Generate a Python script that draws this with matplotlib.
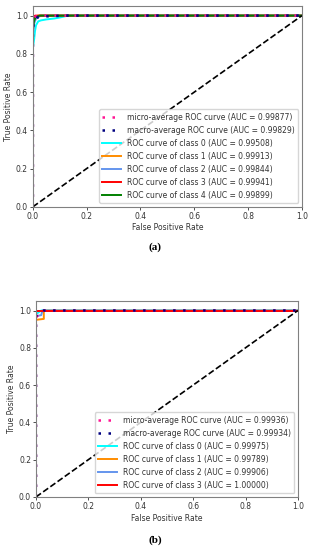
import matplotlib.pyplot as plt
import numpy as np

# ---- panel (a) data: ROC points per curve
a_micro_fpr = [0.0, 0.0, 0.003, 0.01, 0.03, 1.0]
a_micro_tpr = [0.0, 0.95, 0.985, 0.995, 1.0, 1.0]
a_macro_fpr = [0.0, 0.0, 0.004, 0.015, 0.05, 0.12, 1.0]
a_macro_tpr = [0.0, 0.93, 0.975, 0.99, 0.996, 1.0, 1.0]
a_cls_fpr = [
    [0.0, 0.0, 0.005, 0.008, 0.012, 0.02, 0.03, 0.05, 0.08, 0.1, 0.13, 1.0],
    [0.0, 0.0, 0.004, 0.01, 0.02, 1.0],
    [0.0, 0.0, 0.005, 0.012, 0.03, 1.0],
    [0.0, 0.0, 0.003, 0.008, 1.0],
    [0.0, 0.0, 0.004, 0.01, 0.025, 1.0],
]
a_cls_tpr = [
    [0.0, 0.83, 0.88, 0.92, 0.95, 0.97, 0.975, 0.98, 0.985, 0.99, 1.0, 1.0],
    [0.0, 0.94, 0.98, 0.995, 1.0, 1.0],
    [0.0, 0.9, 0.96, 0.985, 1.0, 1.0],
    [0.0, 0.96, 0.99, 1.0, 1.0],
    [0.0, 0.92, 0.97, 0.99, 1.0, 1.0],
]
a_micro_auc = 0.99877
a_macro_auc = 0.99829
a_cls_auc = [0.99508, 0.99913, 0.99844, 0.99941, 0.99899]

# ---- panel (b) data
b_micro_fpr = [0.0, 0.0, 0.01, 0.02, 1.0]
b_micro_tpr = [0.0, 0.96, 0.98, 1.0, 1.0]
b_macro_fpr = [0.0, 0.0, 0.01, 0.02, 0.03, 1.0]
b_macro_tpr = [0.0, 0.97, 0.985, 0.995, 1.0, 1.0]
b_cls_fpr = [
    [0.0, 0.0, 0.01, 0.02, 1.0],
    [0.0, 0.0, 0.03, 0.03, 1.0],
    [0.0, 0.0, 0.02, 0.025, 1.0],
    [0.0, 0.0, 1.0],
]
b_cls_tpr = [
    [0.0, 0.98, 0.99, 1.0, 1.0],
    [0.0, 0.95, 0.955, 1.0, 1.0],
    [0.0, 0.97, 0.975, 1.0, 1.0],
    [0.0, 1.0, 1.0],
]
b_micro_auc = 0.99936
b_macro_auc = 0.99934
b_cls_auc = [0.99975, 0.99789, 0.99906, 1.00000]

colors = ['aqua', 'darkorange', 'cornflowerblue', 'red', 'green']
fs = 5.5
dots = (0, (1, 3))

fig = plt.figure(figsize=(3.1, 5.5), dpi=100)


def draw(ax, micro_fpr, micro_tpr, micro_auc, macro_fpr, macro_tpr, macro_auc,
         cls_fpr, cls_tpr, cls_auc):
    for i in range(len(cls_fpr)):
        ax.plot(cls_fpr[i], cls_tpr[i], color=colors[i], lw=1.4,
                label='ROC curve of class {0} (AUC = {1:.5f})'.format(i, cls_auc[i]))
    ax.plot(micro_fpr, micro_tpr, color='deeppink', ls=dots, lw=1.8,
            label='micro-average ROC curve (AUC = {0:.5f})'.format(micro_auc))
    ax.plot(macro_fpr, macro_tpr, color='navy', ls=dots, lw=1.8,
            label='macro-average ROC curve (AUC = {0:.5f})'.format(macro_auc))
    ax.plot([0, 1], [0, 1], 'k--', lw=1.2)
    ax.set_xlim(0.0, 1.0)
    ax.set_ylim(0.0, 1.05)
    ax.set_xlabel('False Positive Rate', fontsize=fs, color='#333333', labelpad=2)
    ax.set_ylabel('True Positive Rate', fontsize=fs, color='#333333', labelpad=2)
    ax.tick_params(labelsize=fs, length=2, width=0.6, pad=1.5, colors='#333333')
    for s in ax.spines.values():
        s.set_color('#808080')
        s.set_linewidth(0.8)
    h, l = ax.get_legend_handles_labels()
    n = len(cls_fpr)
    order = [n, n + 1] + list(range(n))
    leg = ax.legend([h[k] for k in order], [l[k] for k in order], loc='lower right',
                    fontsize=fs, handlelength=2.4, borderpad=0.45, labelspacing=0.52,
                    handletextpad=0.8, framealpha=0.8)
    for t in leg.get_texts():
        t.set_color('#333333')


ax1 = fig.add_axes([0.106, 0.624, 0.868, 0.365])
draw(ax1, a_micro_fpr, a_micro_tpr, a_micro_auc, a_macro_fpr, a_macro_tpr, a_macro_auc,
     a_cls_fpr, a_cls_tpr, a_cls_auc)

ax2 = fig.add_axes([0.116, 0.0964, 0.845, 0.356])
draw(ax2, b_micro_fpr, b_micro_tpr, b_micro_auc, b_macro_fpr, b_macro_tpr, b_macro_auc,
     b_cls_fpr, b_cls_tpr, b_cls_auc)

fig.text(0.5, 1 - 247 / 550, '(a)', ha='center', va='center', fontsize=8,
         family='Liberation Serif', weight='bold')
fig.text(0.5, 1 - 540 / 550, '(b)', ha='center', va='center', fontsize=8,
         family='Liberation Serif', weight='bold')

plt.savefig('out.png', dpi=100)
